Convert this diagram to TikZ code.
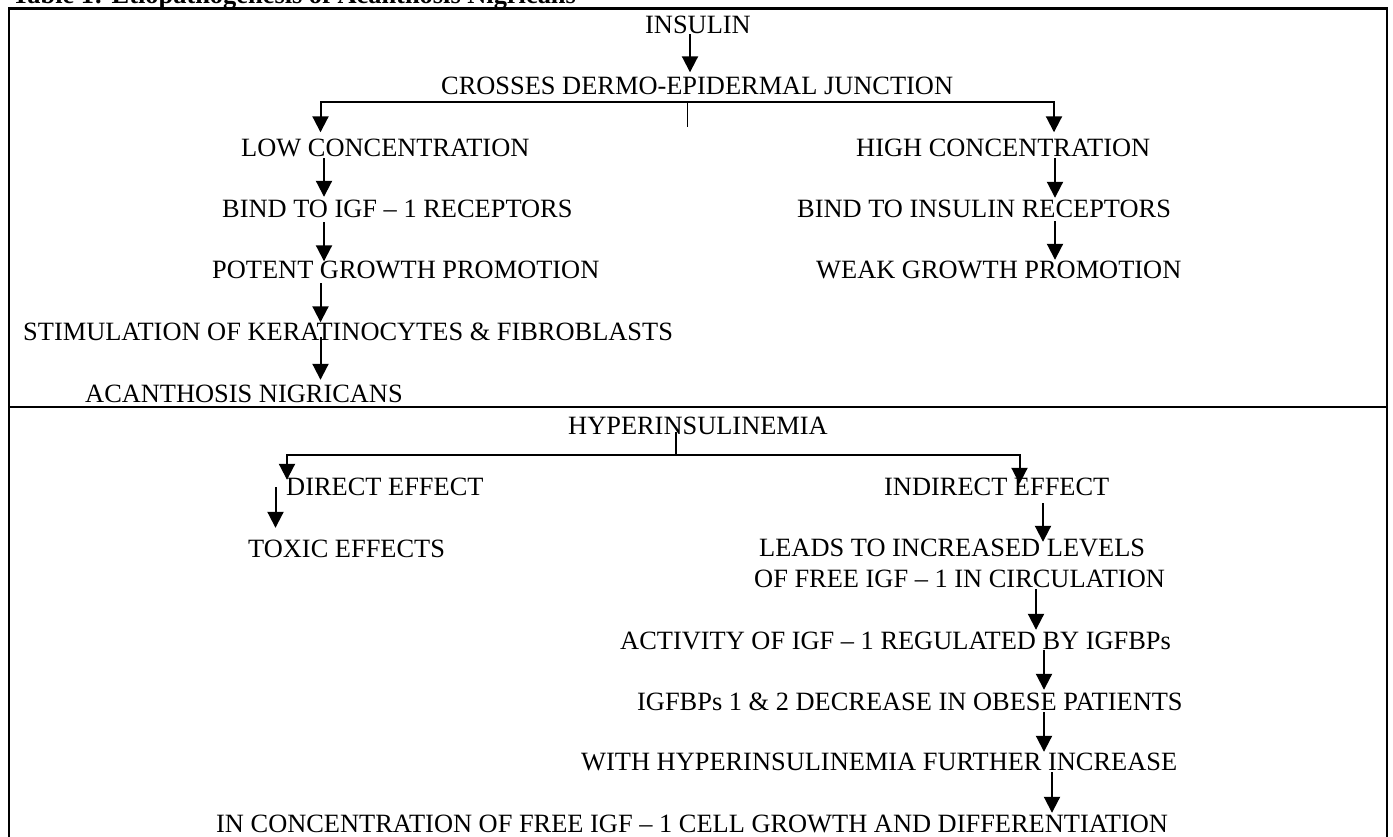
\documentclass[tikz,border=0pt]{standalone}
\usepackage{fontspec}
\setmainfont{Liberation Serif}
\usetikzlibrary{arrows.meta}
\begin{document}
\begin{tikzpicture}[x=1pt,y=-1pt,
  lbl/.style={inner sep=0pt, anchor=base west, font=\fontsize{26.4pt}{31pt}\selectfont, text height=17.5pt, text depth=0pt},
  ttl/.style={inner sep=0pt, anchor=base west, font=\fontsize{26.4pt}{31pt}\selectfont\bfseries},
  arr/.style={line width=2pt, -{Triangle[width=16pt,length=16pt]}},
  stub/.style={line width=1.2pt},
  frame/.style={line width=2.2pt}]
\useasboundingbox (0,0) rectangle (1393,837);
% frame
\draw[frame] (9,837) -- (9,8.5) -- (1387,8.5) -- (1387,837);
\draw[frame] (9,407) -- (1387,407);
% title
\node[ttl] (title) at (12,4) {Table 1: Etiopathogenesis of Acanthosis Nigricans};
% upper part
\node[lbl] (ins) at (645,34) {INSULIN};
\node[lbl] (cross) at (441,95) {CROSSES DERMO-EPIDERMAL JUNCTION};
\node[lbl] (low) at (241,157) {LOW CONCENTRATION};
\node[lbl] (high) at (856,157) {HIGH CONCENTRATION};
\node[lbl] (bigf) at (222,218) {BIND TO IGF – 1 RECEPTORS};
\node[lbl] (bins) at (797,218) {BIND TO INSULIN RECEPTORS};
\node[lbl] (potent) at (212,279) {POTENT GROWTH PROMOTION};
\node[lbl] (weak) at (816,279) {WEAK GROWTH PROMOTION};
\node[lbl] (stim) at (23,340) {STIMULATION OF KERATINOCYTES \& FIBROBLASTS};
\node[lbl] (acan) at (85,402) {ACANTHOSIS NIGRICANS};
% lower part
\node[lbl] (hyper) at (568,434) {HYPERINSULINEMIA};
\node[lbl] (direct) at (286,495) {DIRECT EFFECT};
\node[lbl] (indirect) at (884,495) {INDIRECT EFFECT};
\node[lbl] (toxic) at (248,557) {TOXIC EFFECTS};
\node[lbl] (leadsa) at (759,556) {LEADS TO INCREASED LEVELS};
\node[lbl] (leadsb) at (754,587) {OF FREE IGF – 1 IN CIRCULATION};
\node[lbl] (act) at (620,649) {ACTIVITY OF IGF – 1 REGULATED BY IGFBPs};
\node[lbl] (igfbp) at (637,710) {IGFBPs 1 \& 2 DECREASE IN OBESE PATIENTS};
\node[lbl] (with) at (581,770) {WITH HYPERINSULINEMIA FURTHER INCREASE};
\node[lbl] (inconc) at (216,832) {IN CONCENTRATION OF FREE IGF – 1 CELL GROWTH AND DIFFERENTIATION};
% upper connectors
\draw[arr] (ins.south -| 690,0) -- ([yshift=5pt]cross.north -| 690,0);
\coordinate (j1) at (687.5,102);
\coordinate (j1s) at (687.5,127);
\draw[stub] (j1) -- (j1s);
\draw[arr] (j1) -| ([yshift=7pt]low.north -| 320.5,0);
\draw[arr] (j1) -| ([yshift=7pt]high.north -| 1054,0);
\draw[arr] ([yshift=-1pt]low.south -| 324,0) -- ([yshift=3.5pt]bigf.north -| 324,0);
\draw[arr] ([yshift=-4pt]bigf.south -| 324,0) -- (potent.north -| 324,0);
\draw[arr] ([yshift=-4pt]potent.south -| 320.5,0) -- (stim.north -| 320.5,0);
\draw[arr] ([yshift=3pt]stim.south -| 320.5,0) -- ([yshift=4.5pt]acan.north -| 320.5,0);
\draw[arr] ([yshift=-1pt]high.south -| 1055,0) -- ([yshift=2.5pt]bins.north -| 1055,0);
\draw[arr] ([yshift=-3pt]bins.south -| 1055,0) -- ([yshift=1.5pt]weak.north -| 1055,0);
% lower connectors
\coordinate (j2) at (676,455);
\coordinate (j2s) at (676,432);
\draw[stub] (j2s) -- (j2);
\draw[arr] (j2) -| ([yshift=-2.5pt]direct.north -| 287,0);
\draw[arr] (j2) -| ([yshift=-6.5pt]indirect.north -| 1019.5,0);
\draw[arr] ([yshift=8pt]direct.south -| 275.5,0) -- ([yshift=11.5pt]toxic.north -| 275.5,0);
\draw[arr] ([yshift=-8pt]indirect.south -| 1043,0) -- ([yshift=-3.5pt]leadsa.north -| 1043,0);
\draw[arr] ([yshift=-2pt]leadsb.south -| 1036,0) -- ([yshift=1.5pt]act.north -| 1036,0);
\draw[arr] ([yshift=-1pt]act.south -| 1044,0) -- ([yshift=2.5pt]igfbp.north -| 1044,0);
\draw[arr] ([yshift=-2pt]igfbp.south -| 1044,0) -- ([yshift=0.5pt]with.north -| 1044,0);
\draw[arr] ([yshift=-2pt]with.south -| 1052,0) -- ([yshift=1.5pt]inconc.north -| 1052,0);
\end{tikzpicture}
\end{document}
